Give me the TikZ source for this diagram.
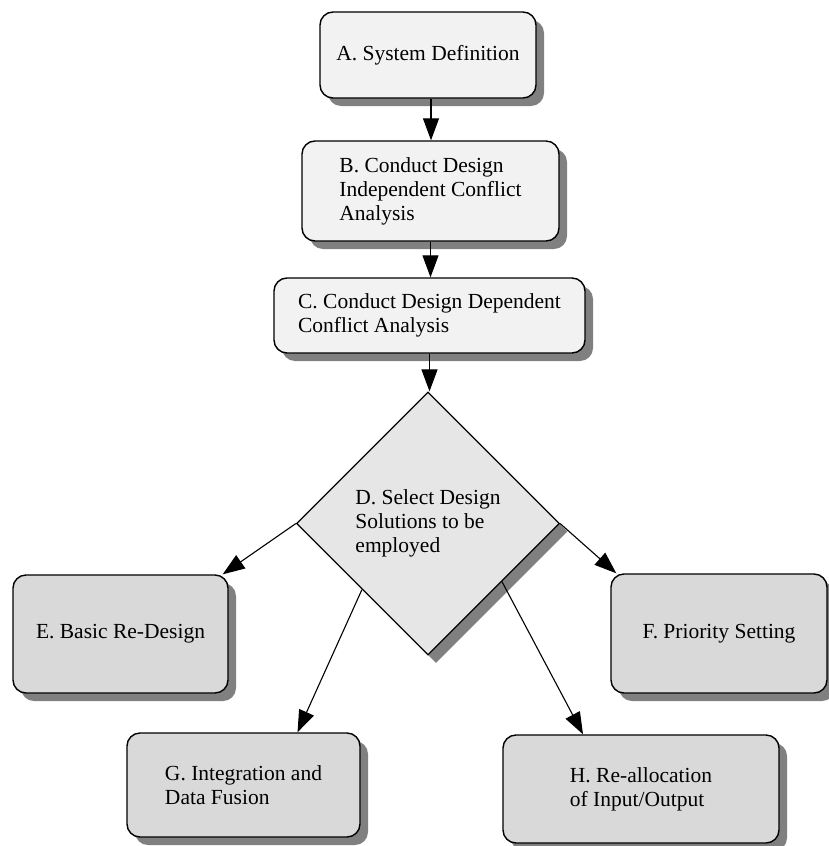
\documentclass[tikz,border=0pt]{standalone}
\usepackage{fontspec}
\setmainfont{Liberation Serif}
\usetikzlibrary{shapes.geometric,shadows,arrows.meta,calc}
\definecolor{lightfill}{HTML}{F2F2F2}
\definecolor{midfill}{HTML}{E6E6E6}
\definecolor{darkfill}{HTML}{D9D9D9}
\definecolor{shadowgray}{HTML}{808080}
\begin{document}
\begin{tikzpicture}[x=1pt,y=-1pt,
  font=\fontsize{21.5}{24}\selectfont,
  shadowed/.style={drop shadow={shadow xshift=8pt, shadow yshift=-8pt, fill=shadowgray, opacity=1}},
  box/.style={draw=black, line width=1.4pt, rounded corners=13pt, align=left, inner sep=0pt, shadowed},
  topbox/.style={box, fill=lightfill},
  lowbox/.style={box, fill=darkfill},
  decision/.style={diamond, aspect=1, draw=black, line width=1.2pt, fill=midfill, align=left, inner sep=0pt, minimum width=263pt, minimum height=263pt, shadowed},
  arr/.style={line width=1.1pt, -{Triangle[length=22pt,width=16pt]}}
]
\useasboundingbox (0,0) rectangle (828,846);

\node[topbox, minimum width=216pt, minimum height=86pt] (A) at (428,55) {A. System Definition};
\node[topbox, minimum width=257pt, minimum height=100pt] (B) at (430.5,191) {B. Conduct Design\\Independent Conflict\\Analysis};
\node[topbox, minimum width=311pt, minimum height=75pt] (C) at (429.5,315.5) {C. Conduct Design Dependent\\Conflict Analysis};
\node[decision] (D) at (428,523.5) {D. Select Design\\Solutions to be\\employed};
\node[lowbox, minimum width=215pt, minimum height=118pt] (E) at (120.5,634) {E. Basic Re-Design};
\node[lowbox, minimum width=216pt, minimum height=119pt] (F) at (719,633.5) {F. Priority Setting};
\node[lowbox, minimum width=233pt, minimum height=104pt] (G) at (243.5,785) {G. Integration and\\Data Fusion};
\node[lowbox, minimum width=276pt, minimum height=108pt] (H) at (641,789) {H. Re-allocation\\of Input/Output};

\draw[arr] ([xshift=3pt]A.south) -- ([xshift=3pt]A.south |- B.north);
\draw[arr] (B.south) -- (B.south |- C.north);
\draw[arr] (C.south) -- (C.south |- D.north);
\draw[arr] (D.west) -- ([xshift=-6pt]E.north east);
\draw[arr] (D.east) -- ([xshift=6pt]F.north west);
\draw[arr] ($(D.west)!0.5!(D.south)$) -- ([xshift=54pt]G.north);
\draw[arr] ($(D.south)!0.56!(D.east)$) -- ([xshift=-58pt]H.north);
\end{tikzpicture}
\end{document}
